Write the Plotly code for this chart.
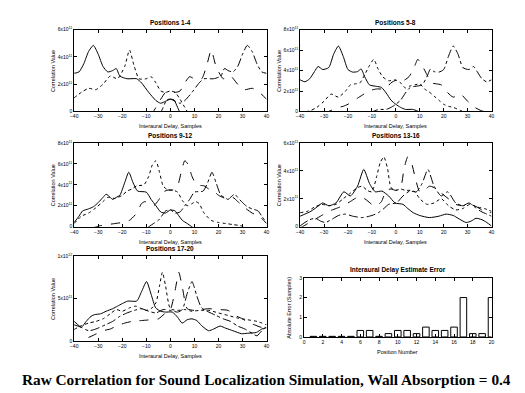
import plotly.graph_objects as go

W, H = 525, 393

# ---------------- data (correlation values in units of 1e11) ----------------
p1_A_x = [-40,-38,-36,-34,-32,-30,-28,-26,-24,-22.5,-21,-18,-14,-12,-9,-6,-4,-2,0,1.5,3,4.5]
p1_A_y = [2.8,2.9,3.5,4.4,4.85,4.2,3.3,2.9,3.0,3.15,2.6,2.4,2.4,2.1,1.4,0.8,0.6,0.75,0.9,0.85,0.3,-0.3]
p1_B_x = [-40,-37,-34,-31,-28,-25,-22,-19,-17,-15,-13,-10,-8,-6,-4,-2,0,2,4,6,8]
p1_B_y = [1.0,1.4,1.7,1.6,2.0,2.6,2.4,3.3,4.5,3.3,2.4,2.4,2.55,2.1,1.5,1.4,1.5,1.4,0.9,0.3,-0.3]
p1_C_x = [-8,-6,-4,-2,0,2,4,6,8,10,13,15,17,19,22,25,28,31,34,37,40]
p1_C_y = [-0.3,0.3,0.9,1.4,1.5,1.4,1.5,2.1,2.55,2.4,2.4,3.3,4.5,3.3,2.4,2.6,2.0,1.6,1.7,1.4,0.9]
p1_D_x = [-4.5,-3,-1.5,0,2,4,6,9,12,14,18,21,22.5,24,26,28,30,32,34,36,38,40]
p1_D_y = [-0.3,0.3,0.85,0.9,0.75,0.6,0.8,1.4,2.1,2.4,2.4,2.6,3.15,3.0,2.9,3.3,4.2,4.85,4.4,3.5,2.9,2.8]

p2_A_x = [-40,-38,-36,-34,-32.5,-30.5,-28,-26,-24,-22,-20,-18,-16,-14.5,-13,-11,-8,-6,-4,-2,0,2,4,7,9,11]
p2_A_y = [3.1,2.9,3.2,3.9,4.4,4.1,4.3,5.6,6.4,5.4,4.1,3.85,3.9,4.15,3.4,2.6,2.45,2.35,1.8,1.1,0.7,0.4,0.2,0.2,0.05,-0.2]
p2_B_x = [-40,-36,-33,-30,-27,-24,-21,-19,-17,-15,-13,-11,-9.2,-7.5,-5.5,-3,-0.5,2,4,6,8,10,12,14,16,18,20,22,24,27,30]
p2_B_y = [-0.1,0.05,0.4,1.0,1.7,1.4,2.0,2.6,2.7,2.8,3.6,4.5,5.1,4.2,3.4,3.0,3.1,2.8,2.3,2.5,2.6,2.7,2.2,1.9,1.5,1.1,0.7,0.5,0.4,0.1,-0.2]
p2_C_x = [-30,-27,-24,-22,-20,-18,-16,-14,-12,-10,-8,-6,-4,-2,0.5,3,5.5,7.5,9.2,11,13,15,17,19,21,24,27,30,33,36,40]
p2_C_y = [-0.2,0.1,0.4,0.5,0.7,1.0,1.3,1.6,1.9,2.1,2.2,2.2,2.3,2.8,3.1,3.0,3.4,4.2,5.1,4.5,3.6,2.8,2.7,2.6,2.0,1.4,1.7,1.0,0.4,0.05,-0.1]
p2_D_x = [-11,-9,-7,-4,-2,0,2,4,6,8,11,13,14.5,16,18,20,22,24,26,28,30.5,32.5,34,36,38,40]
p2_D_y = [-0.2,0.05,0.2,0.2,0.4,0.7,1.1,1.8,2.35,2.45,2.6,3.4,4.15,3.9,3.85,4.1,5.4,6.4,5.6,4.3,4.1,4.4,3.9,3.2,2.9,3.1]

p3_A_x = [-40,-38,-36.5,-34,-32,-30,-28,-26.7,-25,-24,-22.5,-21,-19,-17.3,-15.5,-13.6,-10,-8,-6,-4,-2,0,2,3,5,7,9.5]
p3_A_y = [0.4,1.0,1.5,1.7,1.9,2.3,2.8,3.1,2.8,2.6,2.8,3.0,4.2,5.2,4.2,3.4,3.3,2.6,2.0,1.4,1.3,1.6,1.5,1.2,0.6,0.3,-0.1]
p3_B_x = [-40,-37,-34,-31,-28,-26,-23,-20,-18,-16,-14,-11,-9,-7.5,-6,-4.5,-3,-1,1,3,5,7,9,10.5,12,14,17,20,23,26,29,32]
p3_B_y = [0.3,1.0,1.3,1.8,2.4,2.8,2.7,3.0,3.4,3.6,3.9,4.0,4.8,5.9,6.3,5.2,3.9,3.5,3.5,3.3,2.5,2.0,2.2,2.4,2.2,1.3,0.6,0.4,0.3,0.2,0.1,-0.1]
p3_C_x = [-32,-29,-26,-23,-20,-17,-14,-12,-10.5,-9,-7,-5,-3,-1,1,3,4.5,6,7.5,9,11,14,16,18,20,23,26,28,31,34,37,40]
p3_C_y = [-0.1,0.1,0.2,0.3,0.4,0.6,1.3,2.2,2.4,2.2,2.0,2.5,3.3,3.5,3.5,3.9,5.2,6.3,5.9,4.8,4.0,3.9,3.6,3.4,3.0,2.7,2.8,2.4,1.8,1.3,1.0,0.3]
p3_D_x = [-9.5,-7,-5,-3,-2,0,2,4,6,8,10,13.6,15.5,17.3,19,21,22.5,24,25,26.7,28,30,32,34,36.5,38,40]
p3_D_y = [-0.1,0.3,0.6,1.2,1.5,1.6,1.3,1.4,2.0,2.6,3.3,3.4,4.2,5.2,4.2,3.0,2.8,2.6,2.8,3.1,2.8,2.3,1.9,1.7,1.5,1.0,0.4]

p4_A_x = [-40,-38,-35.5,-33,-30.6,-28,-25,-21.7,-19,-16,-13.4,-11,-8.6,-5.8,-3,-0.3,3,5,7.3,10,14,18,21,24,26,29.4,31.5,33.5,36,38,40]
p4_A_y = [0.75,0.9,1.1,1.4,1.7,1.5,1.7,2.5,2.2,2.9,4.1,3.1,2.5,2.55,2.2,1.7,1.6,1.3,1.0,0.8,0.65,0.75,0.9,0.8,0.6,0.3,0.4,0.6,0.5,0.3,0.05]
p4_B_x = [-40,-37,-34,-31,-28,-25,-22,-19,-16,-14,-12,-10,-8,-6.5,-5,-3.5,-2,0,2,4,6,8,10,13,16,19,22,25,28,31,34,37,40]
p4_B_y = [1.0,1.1,1.4,1.6,1.5,1.6,2.0,2.4,2.8,2.9,2.6,2.5,3.6,4.6,5.0,4.2,2.8,2.6,2.7,2.6,2.6,2.5,2.0,1.6,1.7,2.0,1.5,1.2,1.3,1.6,1.4,1.3,1.1]
p4_C_x = [-40,-37,-34,-31,-28,-25,-22,-19,-16,-13,-10,-8,-6,-4,-2,0,2,3.5,5,6.5,8,10,12,14,16,19,22,25,28,31,34,37,40]
p4_C_y = [-0.1,0.2,0.5,0.8,1.1,1.3,1.5,1.8,2.1,2.0,1.6,1.5,1.8,2.6,2.7,2.6,2.8,4.2,5.0,4.6,3.6,2.5,2.6,2.9,2.8,2.4,2.0,1.6,1.5,1.6,1.4,1.1,1.0]
p4_D_x = [-40,-38,-36,-33.5,-31.5,-29.4,-26,-24,-21,-18,-14,-10,-7.3,-5,-3,0.3,3,5.8,8.6,11,13.4,16,19,21.7,25,28,30.6,33,35.5,38,40]
p4_D_y = [0.05,0.3,0.5,0.6,0.4,0.3,0.6,0.8,0.9,0.75,0.65,0.8,1.0,1.3,1.6,1.7,2.2,2.55,2.5,3.1,4.1,2.9,2.2,2.5,1.7,1.5,1.7,1.4,1.1,0.9,0.75]

p5_A_x = [-40,-38,-37,-35,-33,-31.5,-29,-26.7,-24,-22,-20,-17.7,-14,-12,-9.9,-8,-6.1,-4,-2,0.8,3,4.9,7,9,11,13,15.9,18,20.7,23,26,29.6,32,35.8,38,40]
p5_A_y = [2.3,1.8,1.6,2.3,2.9,3.1,3.2,3.5,3.8,4.1,4.4,4.7,4.7,5.8,7.0,5.5,3.9,3.5,3.4,3.4,2.8,2.1,2.5,2.6,2.4,1.8,1.2,1.4,1.75,1.5,1.2,0.85,0.9,1.0,1.4,1.55]
p5_B_x = [-40,-37,-34,-31,-28,-25,-22.5,-20,-17,-14.3,-12,-10,-8,-6,-4.5,-3.3,-2,0,3,6,9,12,16,20,24,28,32,36,40]
p5_B_y = [1.35,1.8,2.1,2.3,2.6,3.2,3.7,3.5,3.9,4.1,3.8,3.6,3.8,4.5,6.5,8.1,6.5,3.8,3.6,3.7,3.5,3.6,3.6,3.3,3.0,2.7,2.5,2.3,1.9]
p5_C_x = [-34,-31,-28,-25,-22.5,-19,-16,-12,-8,-5,-2,0,2,3.5,5,7,10,13,16,20,24,27,30,32,35,38,40]
p5_C_y = [0.4,0.8,1.2,1.4,1.75,2.1,2.3,2.4,2.5,2.6,3.3,3.7,6.0,8.1,6.3,3.8,3.6,3.7,3.8,3.7,3.6,3.0,2.6,2.2,1.9,1.6,2.0]
p5_D_x = [-40,-37,-34,-31,-27,-24,-21,-18,-15,-12,-9,-6,-3,0,3,5,7,9,11,13,16,19,22,25,28,31,34,36,38,40]
p5_D_y = [1.9,1.6,1.2,1.4,1.9,2.3,2.9,3.3,3.6,3.8,3.5,3.3,3.7,3.6,3.4,3.7,5.6,7.0,5.3,3.9,3.4,3.0,2.6,2.3,1.75,1.4,0.9,0.6,1.2,1.7]

positions = list(range(1, 21))
abs_error = [0.03,0.03,0.03,0.03,0.03,0.33,0.33,0.03,0.17,0.33,0.33,0.17,0.5,0.33,0.33,0.5,2.0,0.17,0.17,2.0]

titles = ["Positions 1-4", "Positions 5-8", "Positions 9-12", "Positions 13-16", "Positions 17-20"]
x_ticks = [-40, -30, -20, -10, 0, 10, 20, 30, 40]
y_tops = [6, 8, 8, 6, 10]
main_title = "Raw Correlation for Sound Localization Simulation, Wall Absorption = 0.4"

series = [
    [(p1_A_x, p1_A_y), (p1_B_x, p1_B_y), (p1_C_x, p1_C_y), (p1_D_x, p1_D_y)],
    [(p2_A_x, p2_A_y), (p2_B_x, p2_B_y), (p2_C_x, p2_C_y), (p2_D_x, p2_D_y)],
    [(p3_A_x, p3_A_y), (p3_B_x, p3_B_y), (p3_C_x, p3_C_y), (p3_D_x, p3_D_y)],
    [(p4_A_x, p4_A_y), (p4_B_x, p4_B_y), (p4_C_x, p4_C_y), (p4_D_x, p4_D_y)],
    [(p5_A_x, p5_A_y), (p5_B_x, p5_B_y), (p5_C_x, p5_C_y), (p5_D_x, p5_D_y)],
]
dashes = ["solid", "dot", "dash", "dashdot"]

# ---------------- layout (pixel boxes) ----------------
boxes = [  # x0, x1, ytop, ybottom in pixels
    (63, 258, 19, 102),
    (292, 486, 19, 102),
    (63, 258, 134, 219),
    (292, 486, 134, 219),
    (63, 258, 249, 335),
    (296, 486, 271, 331),
]

def px(x):
    return x / W

def py(y):
    return 1 - y / H

FONT = "Liberation Sans"
fig = go.Figure()
layout = dict(
    width=W, height=H, margin=dict(l=0, r=0, t=0, b=0),
    paper_bgcolor="white", plot_bgcolor="white", showlegend=False,
    annotations=[],
)

axis_common = dict(
    showline=True, mirror="ticks", linecolor="black", linewidth=1,
    ticks="inside", ticklen=3, tickcolor="black", tickwidth=1,
    showgrid=False, zeroline=False,
    tickfont=dict(family=FONT, size=5, color="black"),
)

def ylabels(top):
    if top == 10:
        return [0, 5, 10], ["0", "5x10<sup>11</sup>", "1x10<sup>12</sup>"]
    vals = list(range(0, top + 1, 2))
    return vals, ["0"] + ["%dx10<sup>11</sup>" % v for v in vals[1:]]

for i in range(6):
    x0, x1, yt, yb = boxes[i]
    n = "" if i == 0 else str(i + 1)
    xa = dict(axis_common, domain=[px(x0), px(x1)], anchor="y" + n)
    ya = dict(axis_common, domain=[py(yb), py(yt)], anchor="x" + n)
    if i < 5:
        xa.update(range=[-40, 40], tickvals=x_ticks)
        tv, tt = ylabels(y_tops[i])
        ya.update(range=[0, y_tops[i]], tickvals=tv, ticktext=tt)
        for (sx, sy), d in zip(series[i], dashes):
            fig.add_trace(go.Scatter(
                x=sx, y=sy, mode="lines", xaxis="x" + n, yaxis="y" + n,
                line=dict(color="black", width=1, dash=d, shape="spline", smoothing=0.6),
            ))
        title = titles[i]
        xlab = "Interaural Delay, Samples"
        ylab = "Correlation Value"
        ylab_x = x0 - 22
    else:
        xa.update(range=[0, 20], tickvals=list(range(0, 21, 2)))
        ya.update(range=[0, 3], tickvals=[0, 1, 2, 3])
        fig.add_trace(go.Bar(
            x=positions, y=abs_error, width=0.7, xaxis="x" + n, yaxis="y" + n,
            marker=dict(color="white", line=dict(color="black", width=1)),
        ))
        title = "Interaural Delay Estimate Error"
        xlab = "Position Number"
        ylab = "Absolute Error (Samples)"
        ylab_x = x0 - 15
    layout["xaxis" + n] = xa
    layout["yaxis" + n] = ya
    cx = (x0 + x1) / 2
    layout["annotations"].append(dict(
        text="<b>%s</b>" % title, x=px(cx), y=py(yt - 2), xref="paper", yref="paper",
        xanchor="center", yanchor="bottom", showarrow=False,
        font=dict(family=FONT, size=6.5, color="black"),
    ))
    layout["annotations"].append(dict(
        text=xlab, x=px(cx), y=py(yb + 10), xref="paper", yref="paper",
        xanchor="center", yanchor="top", showarrow=False,
        font=dict(family=FONT, size=5.5, color="black"),
    ))
    layout["annotations"].append(dict(
        text=ylab, x=px(ylab_x), y=py((yt + yb) / 2), xref="paper", yref="paper",
        xanchor="center", yanchor="middle", showarrow=False, textangle=-90,
        font=dict(family=FONT, size=5.5, color="black"),
    ))

layout["annotations"].append(dict(
    text="<b>%s</b>" % main_title, x=px(258), y=py(374), xref="paper", yref="paper",
    xanchor="center", yanchor="middle", showarrow=False,
    font=dict(family="Liberation Serif", size=15.3, color="black"),
))
layout["bargap"] = 0.3
fig.update_layout(**layout)
fig.write_html("out.html")
